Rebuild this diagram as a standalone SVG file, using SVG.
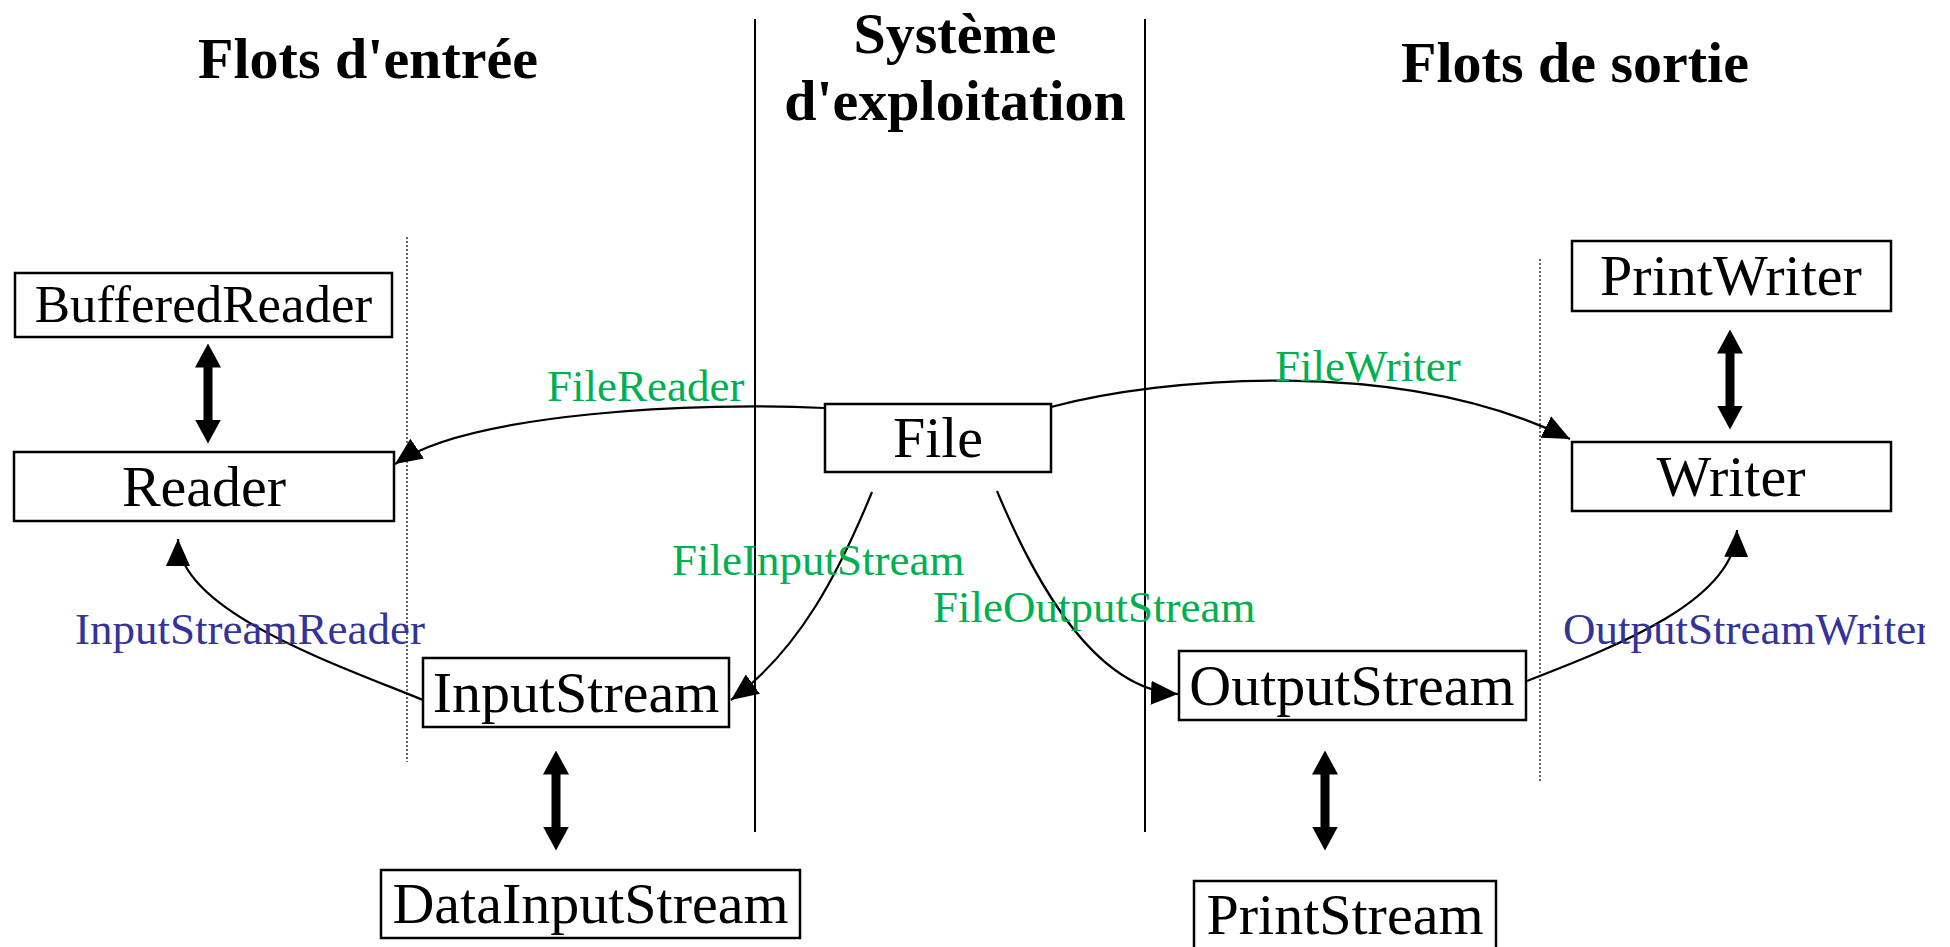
<svg xmlns="http://www.w3.org/2000/svg" width="1950" height="947" viewBox="0 0 1950 947">
<style>
  .box { fill: #ffffff; stroke: #000000; stroke-width: 2.5; }
  .node { font-family: "Liberation Serif", "Times New Roman", serif; font-size: 58px; fill: #000000; text-anchor: middle; }
  .title { font-family: "Liberation Serif", "Times New Roman", serif; font-size: 58px; font-weight: bold; fill: #000000; text-anchor: middle; }
  .green { font-family: "Liberation Serif", "Times New Roman", serif; font-size: 45px; fill: #00B050; }
  .blue { font-family: "Liberation Serif", "Times New Roman", serif; font-size: 45px; fill: #333399; }
  .sep { stroke: #000000; stroke-width: 2; }
  .dot { stroke: #333333; stroke-width: 1.5; stroke-dasharray: 2 2; }
  .conn { fill: none; stroke: #000000; stroke-width: 2.2; marker-end: url(#tri); }
  .thick { stroke: #000000; stroke-width: 9; marker-start: url(#big); marker-end: url(#big); }
</style>
<defs>
  <marker id="tri" markerUnits="userSpaceOnUse" markerWidth="27" markerHeight="24" refX="27" refY="12" orient="auto" viewBox="0 0 27 24">
    <path d="M0,0 L27,12 L0,24 z" fill="#000000"/>
  </marker>
  <marker id="big" markerUnits="userSpaceOnUse" markerWidth="24" markerHeight="26" refX="0.5" refY="13" orient="auto-start-reverse" viewBox="0 0 24 26">
    <path d="M0,0 L24,13 L0,26 z" fill="#000000"/>
  </marker>
  <clipPath id="clipR"><rect x="0" y="0" width="1925" height="947"/></clipPath>
</defs>
<rect width="1950" height="947" fill="#ffffff"/>

<g id="titles">
  <text class="title" x="368" y="78">Flots d'entrée</text>
  <text class="title" x="955" y="53">Système</text>
  <text class="title" x="955" y="120">d'exploitation</text>
  <text class="title" x="1575" y="82">Flots de sortie</text>
</g>

<g id="separators">
  <line class="sep" x1="755" y1="19" x2="755" y2="832"/>
  <line class="sep" x1="1145" y1="19" x2="1145" y2="832"/>
  <line class="dot" x1="407" y1="237" x2="407" y2="762"/>
  <line class="dot" x1="1540" y1="259" x2="1540" y2="781"/>
</g>

<g id="connectors">
  <path class="conn" d="M824,408 C700,402 470,412 395,464"/>
  <path class="conn" d="M1051,407 C1160,378 1400,355 1570,439"/>
  <path class="conn" d="M872,492 C840,570 800,650 731,700"/>
  <path class="conn" d="M997,491 C1030,570 1090,690 1178,694"/>
  <path class="conn" d="M423,700 C330,662 178,610 178,539"/>
  <path class="conn" d="M1527,681 C1620,645 1735,600 1737,530"/>
  <line class="thick" x1="208" y1="367" x2="208" y2="420"/>
  <line class="thick" x1="556" y1="774" x2="556" y2="827"/>
  <line class="thick" x1="1325" y1="774" x2="1325" y2="827"/>
  <line class="thick" x1="1730" y1="353" x2="1730" y2="406"/>
</g>

<g id="labels">
  <text class="green" x="547" y="401">FileReader</text>
  <text class="green" x="1275" y="381">FileWriter</text>
  <text class="green" x="672" y="575">FileInputStream</text>
  <text class="green" x="933" y="622">FileOutputStream</text>
  <text class="blue" x="75" y="644">InputStreamReader</text>
  <text class="blue" x="1563" y="644" clip-path="url(#clipR)">OutputStreamWriter</text>
</g>

<g id="node-BufferedReader">
  <rect class="box" x="15" y="273" width="377" height="64"/>
  <text class="node" x="203.5" y="322" style="font-size:53px">BufferedReader</text>
</g>
<g id="node-Reader">
  <rect class="box" x="14" y="452" width="380" height="69"/>
  <text class="node" x="204" y="506">Reader</text>
</g>
<g id="node-File">
  <rect class="box" x="825" y="404" width="226" height="68"/>
  <text class="node" x="938" y="457">File</text>
</g>
<g id="node-InputStream">
  <rect class="box" x="423" y="658" width="306" height="69"/>
  <text class="node" x="576" y="712">InputStream</text>
</g>
<g id="node-DataInputStream">
  <rect class="box" x="381" y="870" width="419" height="68"/>
  <text class="node" x="590.5" y="923">DataInputStream</text>
</g>
<g id="node-OutputStream">
  <rect class="box" x="1179" y="651" width="347" height="69"/>
  <text class="node" x="1352" y="705">OutputStream</text>
</g>
<g id="node-PrintStream">
  <rect class="box" x="1194" y="881" width="302" height="70"/>
  <text class="node" x="1345" y="934">PrintStream</text>
</g>
<g id="node-PrintWriter">
  <rect class="box" x="1572" y="241" width="319" height="70"/>
  <text class="node" x="1731" y="295">PrintWriter</text>
</g>
<g id="node-Writer">
  <rect class="box" x="1572" y="442" width="319" height="69"/>
  <text class="node" x="1731" y="496">Writer</text>
</g>
</svg>
